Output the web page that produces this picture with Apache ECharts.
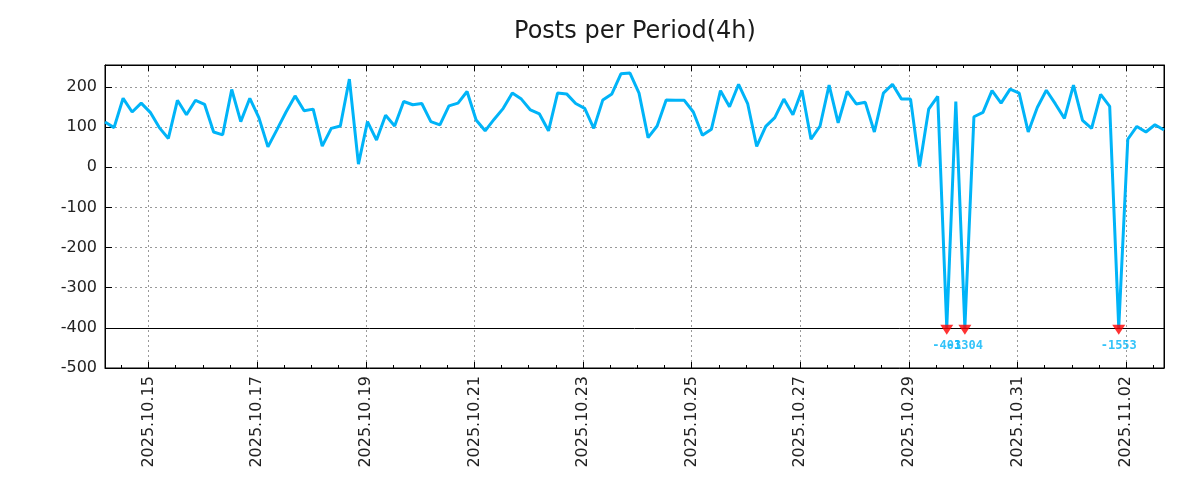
<!DOCTYPE html>
<html><head><meta charset="utf-8">
<script src="https://cdn.jsdelivr.net/npm/echarts@6/dist/echarts.min.js"></script>
<style>html,body{margin:0;padding:0;background:#fff}#c{width:1200px;height:500px}</style>
</head><body><div id="c"></div>
<script>
const chartTitle = 'Posts per Period(4h)';
const startTime = '2025-10-14T04:45:00Z';
const periodHours = 4;
const postCounts = [
  113, 99, 172, 138, 160, 137, 99, 72, 167, 131,
  167, 157, 88, 81, 194, 114, 172, 124, 51, 94,
  138, 178, 141, 145, 53, 97, 103, 220, 8, 114,
  68, 130, 103, 164, 156, 159, 114, 106, 153, 160,
  189, 118, 91, 120, 147, 185, 170, 143, 133, 91,
  185, 183, 159, 147, 97, 168, 183, 233, 235, 185,
  74, 103, 168, 167, 167, 138, 80, 95, 191, 151,
  207, 159, 52, 102, 124, 170, 131, 192, 70, 103,
  205, 111, 189, 158, 162, 88, 185, 207, 170, 170,
  2, 145, 177, -403, 164, -1304, 126, 137, 191, 160,
  195, 185, 88, 149, 192, 158, 122, 205, 117, 97,
  182, 152, -1553, 70, 102, 88, 106, 93
];
const xTickLabels = ['2025.10.15','2025.10.17','2025.10.19','2025.10.21','2025.10.23','2025.10.25','2025.10.27','2025.10.29','2025.10.31','2025.11.02'];
const yMin = -500, yMax = 255, yStep = 100;
const clipValue = -400;

const lineColor = '#00b4f8';
const HOUR = 3600 * 1000;
const t0 = Date.parse(startTime);
const times = postCounts.map((_, i) => t0 + i * periodHours * HOUR);
const xMin = times[0], xMax = times[times.length - 1];
const parseLabel = s => { const p = s.split('.'); return Date.UTC(+p[0], +p[1] - 1, +p[2]); };
const majorTicks = xTickLabels.map(parseLabel);
const minorTicks = [];
for (let t = majorTicks[0] - 2 * 24 * HOUR; t <= xMax; t += 12 * HOUR) if (t >= xMin) minorTicks.push(t);
const pad = n => (n < 10 ? '0' : '') + n;
const fmt = v => { const d = new Date(v); return d.getUTCFullYear() + '.' + pad(d.getUTCMonth() + 1) + '.' + pad(d.getUTCDate()); };

const lineData = postCounts.map((v, i) => [times[i], Math.max(v, clipValue)]);
const clipData = postCounts.map((v, i) => [times[i], clipValue, v]).filter(d => d[2] < clipValue);

const font = 'DejaVu Sans';
const gridRect = { left: 105, right: 36, top: 65, bottom: 132 };
const axisLine = { show: true, onZero: false, lineStyle: { color: '#000', width: 1 } };
const noLine = { show: false, onZero: false };

const chart = echarts.init(document.getElementById('c'));
chart.setOption({
  animation: false,
  backgroundColor: '#fff',
  title: { text: chartTitle, left: 630, textAlign: 'center', top: 15, textStyle: { fontFamily: font, fontSize: 24, fontWeight: 'normal', color: '#1a1a1a' } },
  grid: [
    Object.assign({ show: true, borderColor: '#000', borderWidth: 1, containLabel: false }, gridRect),
    Object.assign({ show: false, containLabel: false }, gridRect)
  ],
  xAxis: [
    { type: 'value', gridIndex: 0, position: 'bottom', min: xMin, max: xMax, axisLine,
      axisTick: { show: true, inside: true, length: 6, customValues: majorTicks, lineStyle: { color: '#000' } },
      axisLabel: { show: true, customValues: majorTicks, rotate: 90, margin: 8, formatter: fmt, fontFamily: font, fontSize: 16, color: '#222' },
      splitLine: { show: true, lineStyle: { color: '#999', type: [2, 3], width: 1 } } },
    { type: 'value', gridIndex: 0, position: 'top', min: xMin, max: xMax, axisLine,
      axisTick: { show: true, inside: true, length: 6, customValues: majorTicks, lineStyle: { color: '#000' } },
      axisLabel: { show: false }, splitLine: { show: false } },
    { type: 'value', gridIndex: 1, position: 'bottom', min: xMin, max: xMax, axisLine: noLine,
      axisTick: { show: true, inside: true, length: 3, customValues: minorTicks, lineStyle: { color: '#000' } },
      axisLabel: { show: false }, splitLine: { show: false } },
    { type: 'value', gridIndex: 1, position: 'top', min: xMin, max: xMax, axisLine: noLine,
      axisTick: { show: true, inside: true, length: 3, customValues: minorTicks, lineStyle: { color: '#000' } },
      axisLabel: { show: false }, splitLine: { show: false } }
  ],
  yAxis: [
    { type: 'value', gridIndex: 0, position: 'left', min: yMin, max: yMax, interval: yStep, axisLine,
      axisTick: { show: true, inside: true, length: 7, lineStyle: { color: '#000' } },
      axisLabel: { show: true, margin: 8, fontFamily: font, fontSize: 16, color: '#222', showMaxLabel: false },
      splitLine: { show: true, lineStyle: { color: '#999', type: [2, 3], width: 1 } } },
    { type: 'value', gridIndex: 0, position: 'right', min: yMin, max: yMax, interval: yStep, axisLine,
      axisTick: { show: true, inside: true, length: 7, lineStyle: { color: '#000' } },
      axisLabel: { show: false }, splitLine: { show: false } },
    { type: 'value', gridIndex: 1, min: yMin, max: yMax, show: false }
  ],
  series: [
    { type: 'line', xAxisIndex: 0, yAxisIndex: 0, data: lineData, showSymbol: false, symbol: 'none',
      lineStyle: { color: lineColor, width: 3 }, z: 3,
      markLine: { silent: true, symbol: 'none', label: { show: false }, lineStyle: { color: '#000', type: 'solid', width: 1 }, data: [{ yAxis: clipValue }], z: 2 } },
    { type: 'scatter', xAxisIndex: 0, yAxisIndex: 0, data: clipData, symbol: 'triangle', symbolRotate: 180,
      symbolSize: [13, 10], symbolOffset: [0, 2], itemStyle: { color: '#ff0000' }, z: 5,
      label: { show: true, position: 'bottom', distance: 5, formatter: p => String(p.value[2]),
        fontFamily: 'DejaVu Sans Mono', fontWeight: 'bold', fontSize: 12, color: lineColor } }
  ]
});
</script></body></html>
